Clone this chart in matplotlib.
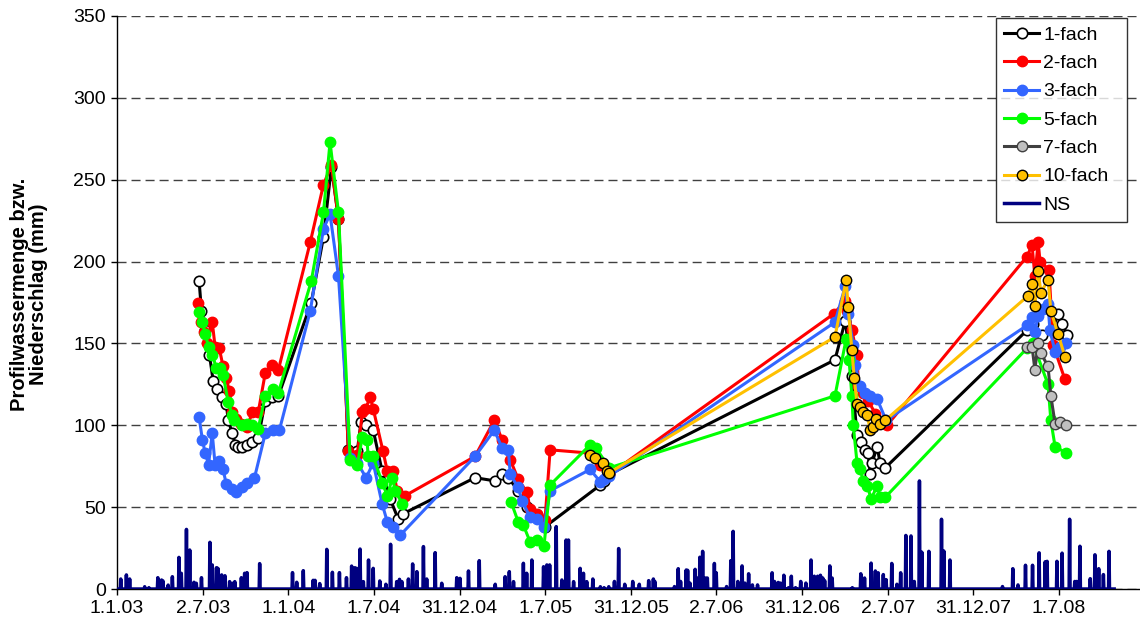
import numpy as np
import matplotlib
matplotlib.use('Agg')
import matplotlib.pyplot as plt

plt.rcParams['font.family'] = ['Liberation Sans', 'DejaVu Sans']

nan = np.nan

# ---------------- data (x = days since 1.1.2003) ----------------
tick_labels = ["1.1.03", "2.7.03", "1.1.04", "1.7.04", "31.12.04", "1.7.05",
               "31.12.05", "2.7.06", "31.12.06", "2.7.07", "31.12.07", "1.7.08"]

f1_day = [175, 180, 188, 197, 205, 214, 224, 233, 237, 246, 252, 258, 267, 276, 288, 301, 316, 331, 344,
          414, 440, 457, 472,
          493, 512, 520, 531, 546, 565, 582, 599, 610,
          763, 806, 821, 834, 855, 874, 895, 912,
          1030, 1038, 1049,
          1530, 1552, 1566, 1577, 1586, 1594, 1601, 1605, 1609, 1620, 1626, 1637,
          1939, 1952, 1971, 1993, 2005, 2014, 2025]
f1_val = [188, 170, 158, 143, 127, 122, 117, 113, 103, 95, 88, 87, 87, 88, 90, 92, 115, 117, 118,
          175, 215, 258, 226,
          85, 84, 102, 100, 97, 72, 55, 43, 46,
          68, 66, 70, 68, 60, 50, 45, 38,
          63.5, 66, 70,
          140, 164, 130, 94, 90, 85, 83, 70, 77, 87, 77, 74,
          158, 162, 155, 158, 168, 162, 155]

f2_day = [173, 180, 186, 192, 203, 209, 218, 226, 233, 239, 246, 254, 265, 278, 288, 301, 316, 331, 344,
          412, 440, 457, 472,
          493, 512, 523, 529, 540, 546, 567, 576, 589, 597, 614,
          763, 804, 821, 838, 855, 874, 880, 895, 912, 923, 1008, 1030, 1049,
          1527, 1552, 1556, 1566, 1577, 1580, 1590, 1601, 1616, 1641,
          1939, 1950, 1956, 1963, 1967, 1986, 1995, 2020]
f2_val = [175, 163, 157, 150, 163, 148, 147, 136, 129, 121, 108, 104, 101, 99, 108, 108, 132, 137, 134,
          212, 247, 259, 226,
          84, 82, 108, 110, 117, 110, 84, 72, 72, 60, 57,
          81, 103, 91, 79, 67, 59, 49, 46, 42, 85, 83, 76, 70,
          168, 176, 170, 158, 143, 124, 120, 115, 107, 100,
          203, 210, 191, 212, 200, 195, 149, 128]

f3_day = [175, 182, 188, 195, 203, 209, 218, 226, 233, 244, 254, 267, 278, 293, 316, 333, 346,
          412, 440, 454, 472,
          497, 512, 531, 546, 565, 576, 589, 604,
          763, 804, 821, 834, 838, 855, 863, 880, 895, 910, 923, 1008, 1030, 1038, 1049,
          1530, 1552, 1558, 1569, 1573, 1584, 1594, 1605, 1620, 1639,
          1939, 1950, 1956, 1963, 1974, 1984, 1988, 1999, 2010, 2023]
f3_val = [105, 91, 83, 76, 95, 76, 78, 73, 64, 61, 59, 62, 65, 68, 95, 97, 97,
          170, 220, 229, 191,
          80, 77, 68, 77, 52, 41, 38, 33,
          81, 97, 86, 85, 70, 62, 54, 44, 43, 38, 60, 73, 65.5, 67, 69,
          163, 185, 168, 149, 137, 124, 120, 118, 116, 103,
          161, 166, 157, 167, 171, 174, 158, 145, 148, 150]

f5_day = [175, 182, 188, 195, 203, 212, 220, 226, 237, 246, 250, 267, 278, 288, 301, 316, 333, 344,
          414, 440, 454, 472,
          497, 512, 523, 533, 535, 546, 565, 576, 587, 593, 608,
          700,
          840, 855, 866, 880, 895, 910, 923, 1008, 1021, 1049,
          1530, 1554, 1560, 1566, 1569, 1577, 1584, 1590, 1599, 1607, 1620, 1626, 1637,
          1939, 1952, 1984, 1990, 1999, 2023]
f5_val = [169, 163, 156, 148, 143, 135, 135, 131, 114, 106, 103, 100, 101, 100, 98, 118, 122, 120,
          188, 230, 273, 230,
          79, 76, 93, 91, 81, 81, 65, 57, 68, 60, 52,
          nan,
          53, 41, 39, 29, 30, 26.5, 63.5, 88, 86, 74,
          118, 153, 140, 118, 100, 77, 73, 66, 63, 55, 63, 56, 56,
          147, 150, 125, 103, 87, 83]

f7_day = [1939, 1950, 1956, 1963, 1969, 1984, 1990, 1999, 2010, 2023]
f7_val = [148, 148, 134, 150, 144, 136, 118, 101, 102, 100]

f10_day = [1008, 1019, 1036, 1045, 1049,
           1530, 1554, 1558, 1566, 1571, 1577, 1584, 1590, 1599, 1605, 1611, 1618, 1626, 1637,
           1941, 1950, 1956, 1963, 1969, 1984, 1990, 2005, 2020]
f10_val = [82, 80, 77, 72, 71,
           154, 189, 172, 146, 129, 113, 111, 108, 106, 97, 99, 104, 101, 103,
           179, 186, 173, 194, 181, 189, 170, 156, 142]

# precipitation (NS): rain days and amounts (mm); other days are dry
ns_last_day = 2125
ns_day = [8, 20, 27, 59, 68, 87, 95, 98, 109, 118, 132, 137, 148, 155, 164, 169, 180, 198, 203, 212, 215,
          223, 230, 240, 246, 251, 265, 272, 277, 304, 374, 383, 397, 418, 422, 432, 447, 459, 474, 489,
          500, 507, 511, 518, 525, 536, 546, 560, 573, 583, 596, 602, 607, 621, 630, 639, 653, 660, 678,
          692, 724, 731, 749, 772, 806, 827, 836, 845, 866, 873, 884, 909, 916, 922, 936, 948, 957, 962,
          973, 987, 994, 1001, 1014, 1030, 1038, 1048, 1060, 1069, 1082, 1099, 1113, 1133, 1143, 1146,
          1188, 1196, 1201, 1213, 1216, 1221, 1232, 1236, 1242, 1248, 1254, 1258, 1273, 1277, 1299, 1308,
          1313, 1323, 1332, 1338, 1346, 1354, 1365, 1396, 1401, 1409, 1414, 1421, 1431, 1437, 1446, 1457,
          1468, 1479, 1486, 1493, 1499, 1504, 1508, 1519, 1524, 1567, 1585, 1593, 1607, 1616, 1622, 1633,
          1639, 1651, 1662, 1670, 1681, 1692, 1699, 1710, 1715, 1730, 1757, 1762, 1775, 1887, 1909, 1920,
          1936, 1951, 1965, 1978, 1982, 2003, 2014, 2030, 2041, 2045, 2052, 2074, 2084, 2092, 2102, 2114]
ns_mm = [6.1, 8.6, 6.1, 1.4, 0.8, 6.9, 5.5, 4.9, 2.4, 7.5, 19.3, 9.6, 36.4, 23.8, 4.1, 3.5, 6.9, 28.5, 14.7,
         13.0, 12.6, 8.6, 8.1, 4.5, 3.5, 4.5, 6.9, 9.6, 10.0, 15.5, 10.0, 4.1, 11.2, 5.3, 5.3, 3.3, 24.2,
         10.2, 10.0, 6.9, 14.0, 13.0, 12.6, 24.4, 4.5, 17.7, 12.6, 4.9, 2.9, 27.3, 4.5, 5.9, 4.5, 6.1,
         15.3, 10.6, 25.9, 6.1, 22.2, 3.5, 6.9, 6.5, 11.0, 17.3, 2.9, 7.5, 10.6, 4.5, 15.7, 9.6, 17.7,
         13.6, 14.7, 14.7, 38.1, 5.5, 29.9, 29.9, 4.5, 12.6, 9.6, 4.5, 6.1, 1.4, 0.8, 1.4, 4.6, 24.7, 2.9,
         4.6, 2.9, 5.1, 6.1, 4.6, 1.5, 12.4, 4.6, 11.6, 11.4, 3.6, 12.0, 6.7, 19.4, 23.0, 6.7, 6.7, 15.6,
         9.9, 1.5, 17.3, 35.2, 4.6, 14.1, 3.6, 9.3, 2.5, 2.5, 9.9, 4.6, 4.0, 3.6, 8.4, 0.8, 7.8, 0.8, 4.6,
         3.6, 17.7, 7.8, 7.8, 8.4, 6.7, 5.1, 14.1, 6.7, 0.8, 9.3, 6.7, 15.8, 11.0, 9.9, 8.8, 5.7, 15.6,
         2.9, 9.9, 32.7, 32.4, 4.6, 66.0, 22.5, 23.0, 42.6, 23.2, 17.7, 1.5, 12.4, 2.5, 14.5, 14.5, 22.1,
         16.6, 16.9, 16.9, 21.9, 42.6, 4.6, 4.6, 26.1, 6.3, 20.9, 12.4, 8.8, 23.0]

# ---------------- figure ----------------
W, H = 1140, 628
fig = plt.figure(figsize=(W / 100, H / 100), dpi=100)
ax = fig.add_axes([117 / W, 39 / H, 1 - 117 / W, 573 / H])

lw = 2.2
ms = 7.5
series = [
    (f1_day, f1_val, "1-fach", dict(color='black', mfc='white', mec='black', mew=1.2)),
    (f2_day, f2_val, "2-fach", dict(color='#FF0000', mfc='#FF0000', mec='#FF0000', mew=1)),
    (f3_day, f3_val, "3-fach", dict(color='#3366FF', mfc='#3366FF', mec='#3366FF', mew=1)),
    (f5_day, f5_val, "5-fach", dict(color='#00FF00', mfc='#00FF00', mec='#00FF00', mew=1)),
    (f7_day, f7_val, "7-fach", dict(color='#404040', mfc='#C0C0C0', mec='#404040', mew=1)),
    (f10_day, f10_val, "10-fach", dict(color='#FFC000', mfc='#FFC000', mec='black', mew=1)),
]
for i, (d, v, lab, st) in enumerate(series):
    ax.plot(d, v, marker='o', ms=ms, lw=lw, label=lab, zorder=3 + i, **st)

ns_daily = np.zeros(ns_last_day + 1)
ns_daily[ns_day] = ns_mm
ax.plot(np.arange(ns_last_day + 1), ns_daily, color='#000080', lw=2.5, label='NS', zorder=10)

ax.set_xlim(0, 2180)
ax.set_ylim(0, 350)
ax.set_yticks(np.arange(0, 351, 50))
ax.set_xticks([k * 182.5 for k in range(len(tick_labels))])
ax.set_xticklabels(tick_labels)
ax.tick_params(axis='both', direction='out', length=4, width=1, labelsize=14, colors='black', pad=4)

ax.yaxis.grid(True, linestyle=(0, (6.5, 3.6)), color='#404040', lw=1.0)
ax.set_axisbelow(True)
for s in ['top', 'right']:
    ax.spines[s].set_visible(False)
for s in ['left', 'bottom']:
    ax.spines[s].set_linewidth(1.0)
    ax.spines[s].set_color('black')

ax.set_ylabel('Profilwassermenge bzw.\nNiederschlag (mm)', fontsize=14.5, fontweight='bold',
              linespacing=1.05)
ax.yaxis.set_label_coords(-0.067, 0.515)

leg = ax.legend(loc='upper left', bbox_to_anchor=(996 / W, 1 - 222 / H, 131 / W, 204 / H),
                bbox_transform=fig.transFigure, mode='expand',
                borderaxespad=0, fontsize=14, frameon=True, fancybox=False, edgecolor='black',
                handlelength=1.8, handletextpad=0.2, labelspacing=0.55, borderpad=0.42)
leg.get_frame().set_linewidth(1.0)
leg.set_zorder(20)

fig.savefig('out.png', dpi=100)
